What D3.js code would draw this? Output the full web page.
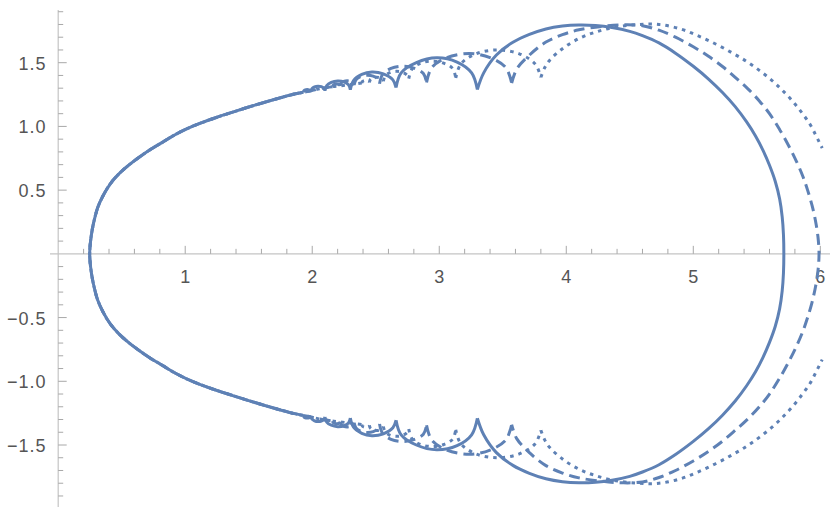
<!DOCTYPE html>
<html><head><meta charset="utf-8">
<script src="https://cdn.jsdelivr.net/npm/d3@7"></script>
<style>body{margin:0;background:#fff}</style></head>
<body>
<svg id="c" width="830" height="510"></svg>
<script>
// ---- data (upper half; the curves are symmetric about the x-axis) ----
const xTickLabels = [1, 2, 3, 4, 5, 6];
const yTickLabels = [-1.5, -1.0, -0.5, 0.5, 1.0, 1.5];

// common left part, from the leftmost point (on the x-axis) upward
const trunk = [[0.248,0],[0.25,0.05],[0.256,0.11],[0.268,0.19],[0.285,0.27],[0.31,0.36],[0.35,0.45],[0.41,0.55],[0.48,0.63],[0.56,0.70],[0.64,0.76],[0.72,0.815],[0.82,0.875],[0.92,0.935],[1.02,0.985],[1.12,1.026],[1.25,1.072],[1.38,1.114],[1.50,1.152],[1.62,1.188],[1.75,1.225],[1.86,1.254],[1.93,1.268]];

// solid curve: small arches between cusps, then the big closing arc (ends on the x-axis)
const solidArches = [
  [[1.93,1.268],[1.935,1.280],[1.945,1.286],[1.96,1.289],[1.975,1.287],[1.985,1.282],[1.99,1.275]],
  [[1.99,1.275],[1.998,1.297],[2.018,1.310],[2.045,1.316],[2.072,1.312],[2.092,1.300],[2.10,1.28]],
  [[2.10,1.28],[2.114,1.32],[2.15,1.345],[2.20,1.356],[2.25,1.349],[2.286,1.326],[2.30,1.288]],
  [[2.30,1.288],[2.325,1.36],[2.39,1.408],[2.47,1.427],[2.56,1.412],[2.635,1.365],[2.66,1.305]],
  [[2.66,1.305],[2.70,1.42],[2.82,1.50],[2.98,1.538],[3.14,1.505],[3.255,1.42],[3.30,1.29]]
];
const solidBig = [[3.30,1.29],[3.35,1.42],[3.45,1.56],[3.58,1.66],[3.71,1.722],[3.84,1.765],[3.97,1.788],[4.10,1.796],[4.23,1.792],[4.36,1.776],[4.50,1.746],[4.60,1.712],[4.73,1.655],[4.86,1.575],[5.0,1.472],[5.12,1.372],[5.23,1.266],[5.33,1.155],[5.42,1.035],[5.49,0.925],[5.55,0.81],[5.60,0.695],[5.645,0.57],[5.68,0.43],[5.70,0.29],[5.71,0.15],[5.713,0]];

const dashedTrunkExt = [[1.93,1.268],[1.99,1.28],[2.06,1.296],[2.12,1.306],[2.16,1.312]];
const dashedArches = [
  [[2.16,1.312],[2.165,1.324],[2.175,1.330],[2.19,1.333],[2.205,1.331],[2.215,1.326],[2.22,1.318]],
  [[2.22,1.318],[2.228,1.340],[2.248,1.353],[2.275,1.358],[2.302,1.354],[2.322,1.342],[2.33,1.325]],
  [[2.33,1.325],[2.344,1.365],[2.38,1.392],[2.43,1.402],[2.48,1.395],[2.516,1.372],[2.53,1.335]],
  [[2.53,1.335],[2.555,1.41],[2.62,1.455],[2.71,1.472],[2.80,1.458],[2.875,1.415],[2.90,1.345]],
  [[2.90,1.345],[2.94,1.46],[3.06,1.54],[3.24,1.572],[3.40,1.54],[3.525,1.46],[3.57,1.34]]
];
const dashedBig = [[3.57,1.34],[3.61,1.45],[3.71,1.56],[3.84,1.662],[3.97,1.72],[4.10,1.758],[4.285,1.785],[4.45,1.797],[4.60,1.79],[4.73,1.755],[4.86,1.70],[5.0,1.625],[5.12,1.55],[5.23,1.47],[5.33,1.385],[5.43,1.295],[5.52,1.20],[5.60,1.10],[5.68,0.975],[5.75,0.85],[5.81,0.73],[5.86,0.615],[5.90,0.50],[5.935,0.38],[5.962,0.26],[5.982,0.13],[5.99,0]];

const dottedTrunkExt = [[1.93,1.268],[1.99,1.28],[2.06,1.296],[2.12,1.306],[2.16,1.312],[2.22,1.318],[2.28,1.326],[2.34,1.333],[2.39,1.34]];
const dottedArches = [
  [[2.39,1.34],[2.395,1.352],[2.405,1.358],[2.42,1.361],[2.435,1.359],[2.445,1.354],[2.45,1.346]],
  [[2.45,1.346],[2.458,1.368],[2.478,1.381],[2.505,1.386],[2.532,1.382],[2.552,1.370],[2.56,1.355]],
  [[2.56,1.355],[2.574,1.395],[2.61,1.422],[2.66,1.432],[2.71,1.425],[2.746,1.402],[2.76,1.375]],
  [[2.76,1.375],[2.785,1.45],[2.85,1.495],[2.94,1.512],[3.03,1.498],[3.105,1.455],[3.13,1.38]],
  [[3.13,1.38],[3.17,1.49],[3.29,1.57],[3.46,1.60],[3.63,1.57],[3.755,1.49],[3.80,1.385]]
];
const dottedBig = [[3.80,1.385],[3.83,1.46],[3.87,1.52],[3.97,1.61],[4.10,1.69],[4.23,1.74],[4.39,1.78],[4.57,1.80],[4.73,1.80],[4.90,1.765],[5.04,1.71],[5.18,1.645],[5.31,1.575],[5.42,1.51],[5.52,1.44],[5.62,1.36],[5.70,1.285],[5.78,1.20],[5.86,1.10],[5.92,1.015],[5.965,0.93],[5.995,0.87],[6.015,0.83]];

// ---- drawing ----
const svg = d3.select('#c');
const x = d3.scaleLinear().domain([0, 6]).range([58.2, 820.3]);
const y = d3.scaleLinear().domain([-1.5, 1.5]).range([445, 62.7]);
const col = '#5E81B5';

// axes
const g = svg.append('g');
g.append('line').attr('x1', 50).attr('x2', 830).attr('y1', y(0)).attr('y2', y(0))
  .attr('stroke', '#c4c4c4').attr('stroke-width', 1.2);
g.append('line').attr('x1', x(0)).attr('x2', x(0)).attr('y1', 10).attr('y2', 507)
  .attr('stroke', '#c4c4c4').attr('stroke-width', 1.2);

const xMinor = d3.range(1, 31).map(i => i * 0.2);
const yMinor = d3.range(-19, 20).filter(i => i !== 0).map(i => i * 0.1);
const isMajorX = v => Math.abs(v - Math.round(v)) < 1e-6;
const isMajorY = v => Math.abs(v * 2 - Math.round(v * 2)) < 1e-6;

g.selectAll('.xt').data(xMinor).join('line')
  .attr('x1', d => x(d)).attr('x2', d => x(d))
  .attr('y1', y(0)).attr('y2', d => y(0) - (isMajorX(d) ? 8 : 5))
  .attr('stroke', '#a8a8a8').attr('stroke-width', 1);
g.selectAll('.yt').data(yMinor).join('line')
  .attr('y1', d => y(d)).attr('y2', d => y(d))
  .attr('x1', x(0)).attr('x2', d => x(0) + (isMajorY(d) ? 8.5 : 5))
  .attr('stroke', '#a8a8a8').attr('stroke-width', 1);

const fmtY = v => (v < 0 ? '\u2212' : '') + Math.abs(v).toFixed(1);
g.selectAll('.xl').data(xTickLabels).join('text')
  .attr('x', d => x(d)).attr('y', y(0) + 29)
  .attr('text-anchor', 'middle')
  .attr('font-family', 'Liberation Sans, Arial, sans-serif').attr('font-size', 18)
  .attr('fill', '#555').text(d => d);
g.selectAll('.yl').data(yTickLabels).join('text')
  .attr('x', 46.5).attr('y', d => y(d) + 7)
  .attr('text-anchor', 'end')
  .attr('font-family', 'Liberation Sans, Arial, sans-serif').attr('font-size', 18)
  .attr('letter-spacing', 1)
  .attr('fill', '#555').text(d => fmtY(d));

// curves: upper-half data reflected for the lower half
const curve = d3.curveCatmullRom.alpha(0.5);
const line = d3.line().x(d => x(d[0])).y(d => y(d[1])).curve(curve);
const flip = p => [p[0], -p[1]];
function pathFor(trunkPts, arches, big, closesRight) {
  const left = [...trunkPts.slice().reverse(), ...trunkPts.slice(1).map(flip)];
  let d = line(left);
  arches.forEach(a => { d += line(a) + line(a.map(flip)); });
  if (closesRight) {
    d += line([...big, ...big.slice(0, -1).reverse().map(flip)]);
  } else {
    d += line(big) + line(big.map(flip));
  }
  return d;
}
const curves = [
  {d: pathFor([...trunk, ...dottedTrunkExt.slice(1)], dottedArches, dottedBig, false), dash: '3.5,5'},
  {d: pathFor([...trunk, ...dashedTrunkExt.slice(1)], dashedArches, dashedBig, true), dash: '11,6'},
  {d: pathFor(trunk, solidArches, solidBig, true), dash: null}
];
svg.append('g').selectAll('path').data(curves).join('path')
  .attr('d', d => d.d)
  .attr('fill', 'none').attr('stroke', col).attr('stroke-width', 3)
  .attr('stroke-linejoin', 'round')
  .attr('stroke-dasharray', d => d.dash);
</script>
</body></html>
